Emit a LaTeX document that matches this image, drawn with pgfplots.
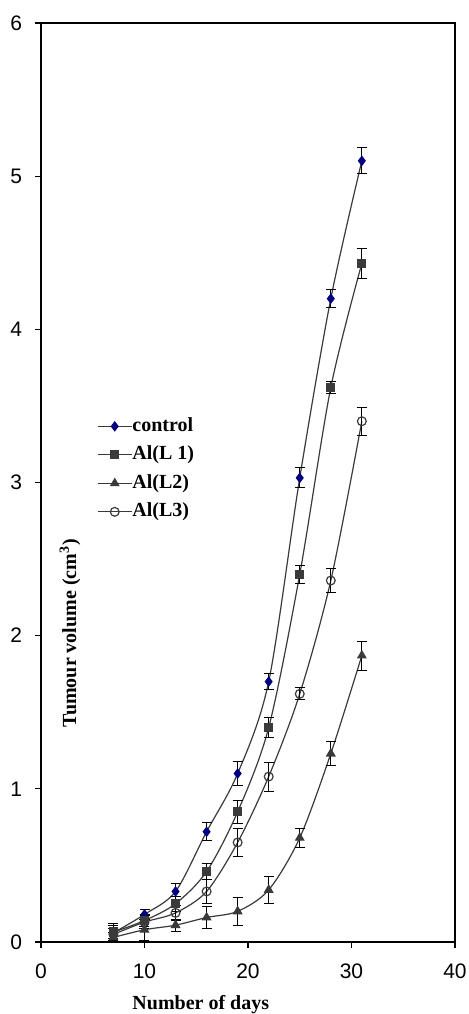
\documentclass[border=0pt]{standalone}
\usepackage{fontspec}
\setmainfont{Liberation Serif}
\newfontfamily\tickfont{Liberation Sans}
\usepackage{pgfplots}
\pgfplotsset{compat=1.18}
\usetikzlibrary{calc}
\definecolor{ctrlblue}{HTML}{000080}
\definecolor{lgray}{HTML}{3A3A3A}
\begin{document}
\begin{tikzpicture}
\begin{axis}[
  scale only axis,
  width=207pt, height=459.5pt,
  xmin=0, xmax=40, ymin=0, ymax=6,
  xtick={0,10,20,30,40}, ytick={0,1,2,3,4,5,6},
  tick align=outside, xtick pos=left, ytick pos=left,
  major tick length=3pt,
  axis line style={line width=0.75pt},
  every tick/.style={black, line width=0.6pt},
  /pgf/number format/assume math mode=true,
  ticklabel style={font=\tickfont\fontsize{10.5}{12}\selectfont},
  yticklabel style={xshift=-3pt},
  xticklabel style={yshift=-4.5pt},
  xlabel={Number of days},
  ylabel={Tumour volume (cm\textsuperscript{3})},
  label style={font=\bfseries\fontsize{10}{12}\selectfont},
  xlabel style={at={(axis description cs:0.386,-0.0686)}, anchor=center},
  ylabel style={at={(axis description cs:0.070,0.336)}, anchor=center},
  legend style={draw=none, fill=none, at={(axis description cs:0.12,0.5757)}, anchor=north west,
    font=\bfseries\fontsize{10}{12}\selectfont,
    nodes={inner sep=0pt, text height=7pt, text depth=2pt}, row sep=5.25pt},
  legend cell align=left,
  every axis plot/.append style={lgray, line width=0.6pt, smooth},
  error bars/y dir=both, error bars/y explicit,
  error bars/error bar style={black, line width=0.5pt},
  error bars/error mark options={rotate=90, mark size=2.5pt, black, line width=0.5pt},
]
\addplot[mark=diamond*, mark size=2.2pt, mark options={ctrlblue, fill=ctrlblue, solid}]
 coordinates {(7,0.06) +- (0,0.06) (10,0.18) +- (0,0.03) (13,0.33) +- (0,0.05) (16,0.72) +- (0,0.06)
  (19,1.10) +- (0,0.08) (22,1.70) +- (0,0.05) (25,3.03) +- (0,0.065) (28,4.20) +- (0,0.06) (31,5.10) +- (0,0.085)};
\addlegendentry{control}
\addplot[mark=square*, mark size=2pt, mark options={fill=lgray, draw=lgray}]
 coordinates {(7,0.065) +- (0,0.04) (10,0.14) +- (0,0.04) (13,0.25) +- (0,0.05) (16,0.46) +- (0,0.05)
  (19,0.85) +- (0,0.075) (22,1.40) +- (0,0.065) (25,2.40) +- (0,0.06) (28,3.62) +- (0,0.04) (31,4.43) +- (0,0.095)};
\addlegendentry{Al(L 1)}
\addplot[mark=triangle*, mark size=2.3pt, mark options={fill=lgray, draw=lgray}]
 coordinates {(7,0.03) +- (0,0.03) (10,0.08) +- (0,0.07) (13,0.11) +- (0,0.04) (16,0.16) +- (0,0.07)
  (19,0.20) +- (0,0.09) (22,0.34) +- (0,0.09) (25,0.68) +- (0,0.06) (28,1.23) +- (0,0.08) (31,1.87) +- (0,0.095)};
\addlegendentry{Al(L2)}
\addplot[mark=o, mark size=2.2pt, mark options={fill=white, draw=lgray}]
 coordinates {(7,0.05) +- (0,0.04) (10,0.13) +- (0,0.04) (13,0.19) +- (0,0.05) (16,0.33) +- (0,0.08)
  (19,0.65) +- (0,0.09) (22,1.08) +- (0,0.095) (25,1.62) +- (0,0.04) (28,2.36) +- (0,0.08) (31,3.40) +- (0,0.09)};
\addlegendentry{Al(L3)}
\end{axis}
\pgfresetboundingbox
\path[use as bounding box] ($(current axis.south west)+(-20.5pt,-36pt)$) rectangle ($(current axis.north east)+(7pt,11.5pt)$);
\end{tikzpicture}
\end{document}
